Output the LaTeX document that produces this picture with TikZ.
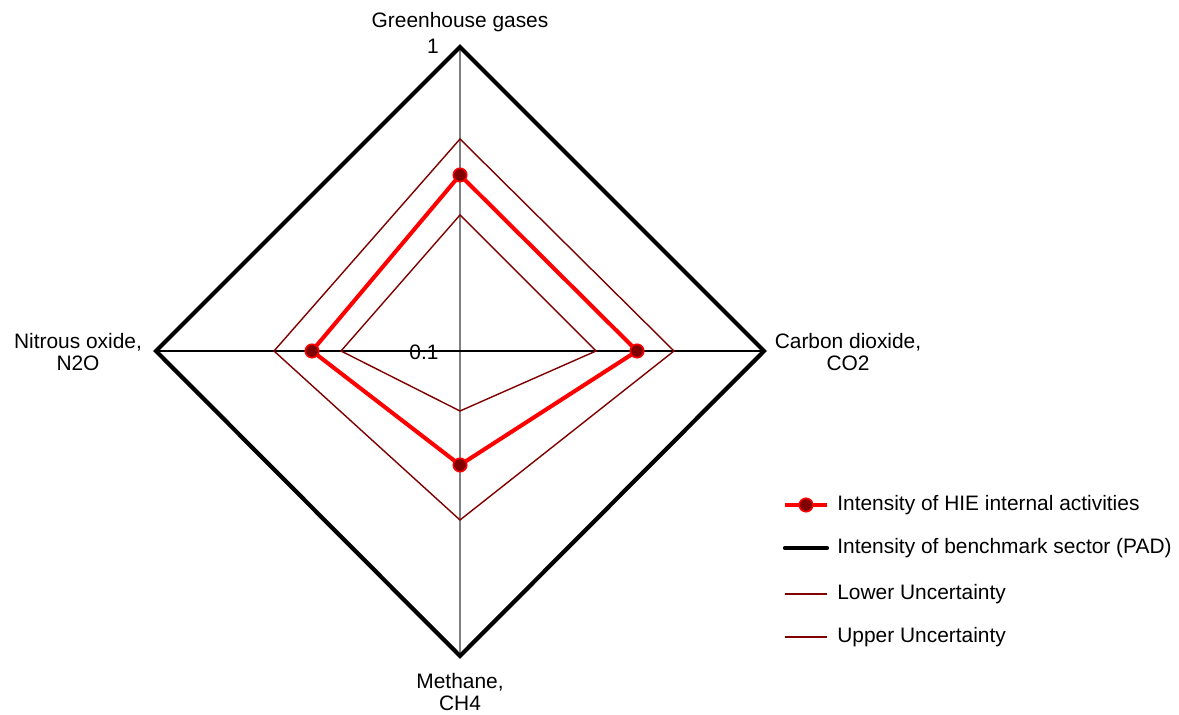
\documentclass[tikz,border=0pt]{standalone}
\usepackage{fontspec}
\setmainfont{Liberation Sans}
\usetikzlibrary{positioning}
\definecolor{darkred}{RGB}{128,0,0}
\tikzset{
    >=stealth,
    axisline/.style={line width=0.6pt},
    bench/.style={line width=2.4pt, line join=miter},
    hie/.style={red, line width=2.3pt, line join=round},
    hiemark/.style={circle, fill=darkred, draw=red, line width=0.9pt, inner sep=0pt, minimum size=0.27cm},
    unc/.style={darkred, line width=0.8pt},
    lbl/.style={font=\fontsize{11.9}{13}\selectfont, align=center, inner sep=0pt},
}

\begin{document}
\begin{tikzpicture}[x=0.02cm, y=-0.02cm]
    \useasboundingbox (0,0) rectangle (1179,715);

    % axes
    \coordinate (O) at (460,351);
    \coordinate (T) at (460,47);
    \coordinate (R) at (764,351);
    \coordinate (B) at (460,656);
    \coordinate (L) at (156,351);
    \draw[axisline, gray] (T) -- (B);
    \draw[axisline] (L) -- (R);

    % uncertainty bounds
    \draw[unc] (460,139) -- (674,351) -- (460,520) -- (274,351) -- cycle;
    \draw[unc] (460,215) -- (596,351) -- (460,411) -- (341,351) -- cycle;

    % benchmark sector
    \draw[bench] (T) -- (R) -- (B) -- (L) -- cycle;

    % HIE internal activities
    \coordinate (h1) at (460,175);
    \coordinate (h2) at (637,351);
    \coordinate (h3) at (460,465);
    \coordinate (h4) at (312,351);
    \draw[hie] (h1) -- (h2) -- (h3) -- (h4) -- cycle;
    \foreach \p in {h1,h2,h3,h4}
        \node[hiemark] at (\p) {};

    % axis labels
    \node[lbl] (ghg) at (460,22) {Greenhouse gases};
    \node[lbl] (one) at (433,46) {1};
    \node[lbl] (tenth) at (424,352) {0.1};
    \node[lbl] (co2) at (848,352) {Carbon dioxide,\\CO2};
    \node[lbl] (n2o) at (78,352) {Nitrous oxide,\\N2O};
    \node[lbl] (ch4) at (460,692) {Methane,\\CH4};

    % legend
    \coordinate (k1) at (785,505);
    \coordinate (k2) at (785,548);
    \coordinate (k3) at (785,594);
    \coordinate (k4) at (785,637);
    \node[lbl, anchor=west] (t1) at (837,505) {Intensity of HIE internal activities};
    \node[lbl, anchor=west] (t2) at (837,548) {Intensity of benchmark sector (PAD)};
    \node[lbl, anchor=west] (t3) at (837,594) {Lower Uncertainty};
    \node[lbl, anchor=west] (t4) at (837,637) {Upper Uncertainty};
    \draw[hie] (k1) -- ++(42,0) node[hiemark, pos=0.5] {};
    \draw[bench, line cap=round] (k2) -- ++(42,0);
    \draw[unc] (k3) -- ++(42,0);
    \draw[unc] (k4) -- ++(42,0);
\end{tikzpicture}
\end{document}
